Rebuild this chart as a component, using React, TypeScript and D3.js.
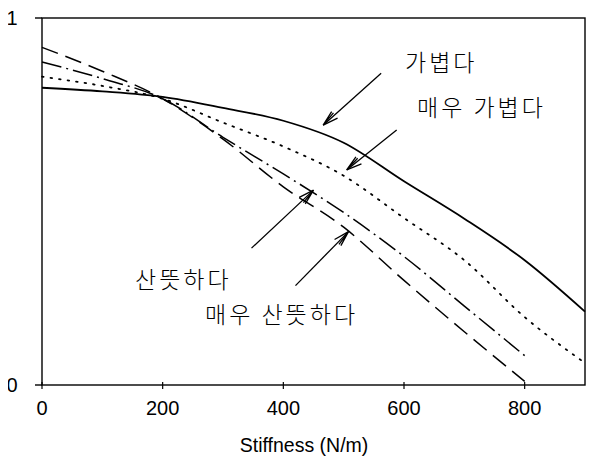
import React from "react";
import * as d3 from "d3";

// stiffness values (N/m) where the curves were read
const stiffness = [0, 100, 200, 300, 400, 500, 600, 700, 800, 900];

// one array per curve, null where the curve has ended
const light = [0.81, 0.8, 0.785, 0.755, 0.72, 0.66, 0.555, 0.453, 0.34, 0.2];
const veryLight = [0.84, 0.815, 0.78, 0.715, 0.65, 0.57, 0.455, 0.34, 0.185, 0.06];
const fresh = [0.88, 0.835, 0.78, 0.675, 0.575, 0.47, 0.35, 0.215, 0.08, null];
const veryFresh = [0.92, 0.855, 0.78, 0.67, 0.54, 0.43, 0.285, 0.145, 0.01, null];

const xTicks = [0, 200, 400, 600, 800];
const yTicks = [0, 1];

// label text, and the point on the curve the arrow touches
const labels = ["가볍다", "매우 가볍다", "산뜻하다", "매우 산뜻하다"];
const arrowX = [466, 505, 450, 508];
const arrowY = [0.708, 0.586, 0.531, 0.418];

const width = 596;
const height = 469;
const left = 42;
const right = 585;
const top = 18;
const bottom = 385;

export default function App() {
  const x = d3.scaleLinear().domain([0, 900]).range([left, right]);
  const y = d3.scaleLinear().domain([0, 1]).range([bottom, top]);

  const line = d3
    .line<[number, number | null]>()
    .defined((d) => d[1] != null)
    .x((d) => x(d[0]))
    .y((d) => y(d[1] as number))
    .curve(d3.curveMonotoneX);

  const series = [
    { values: light, dash: undefined, w: 1.8 },
    { values: veryLight, dash: "1.6,7", w: 1.8 },
    { values: fresh, dash: "20,5,2,5", w: 1.5 },
    { values: veryFresh, dash: "17,8", w: 1.5 },
  ];

  // tail offsets and text anchors for the four annotations (px)
  const tails = [
    [58, -52],
    [50, -40],
    [-62, 58],
    [-53, 54],
  ];
  const textPos = [
    [405, 71],
    [417, 116],
    [135, 288],
    [205, 323],
  ];

  const arrowHead = (tx: number, ty: number, sx: number, sy: number) => {
    const a = Math.atan2(sy - ty, sx - tx);
    const len = 16;
    const parts = [-0.28, -0.14, 0.28];
    return parts
      .map((o) => {
        const ex = tx + len * Math.cos(a + o);
        const ey = ty + len * Math.sin(a + o);
        return `M${tx},${ty}L${ex},${ey}`;
      })
      .join("");
  };

  const font = "Liberation Sans, Arial, sans-serif";

  return (
    <svg width={width} height={height} style={{ display: "block", margin: -8 }}>
      <rect width={width} height={height} fill="#fff" />
      {/* frame */}
      <rect
        x={left}
        y={top}
        width={right - left}
        height={bottom - top}
        fill="none"
        stroke="#000"
        strokeWidth={1.4}
      />
      {yTicks.map((t) => (
        <g key={"y" + t}>
          <line x1={left - 7} x2={left} y1={y(t)} y2={y(t)} stroke="#000" strokeWidth={1.4} />
          <text x={12} y={y(t)} dy="0.35em" textAnchor="middle" fontFamily={font} fontSize={20}>
            {t}
          </text>
        </g>
      ))}
      {xTicks.map((t) => (
        <g key={"x" + t}>
          <line x1={x(t)} x2={x(t)} y1={bottom - 3} y2={bottom + 4} stroke="#000" strokeWidth={1.2} />
          <text x={x(t)} y={415} textAnchor="middle" fontFamily={font} fontSize={20}>
            {t}
          </text>
        </g>
      ))}
      <text x={304} y={452} textAnchor="middle" fontFamily={font} fontSize={19.5}>
        Stiffness (N/m)
      </text>

      {series.map((s, i) => (
        <path
          key={i}
          d={line(stiffness.map((v, j) => [v, s.values[j]]) as [number, number | null][]) || ""}
          fill="none"
          stroke="#000"
          strokeWidth={s.w}
          strokeDasharray={s.dash}
          strokeLinecap={s.dash === "1.6,7" ? "round" : "butt"}
        />
      ))}

      {labels.map((l, i) => {
        const tx = x(arrowX[i]);
        const ty = y(arrowY[i]);
        const sx = tx + tails[i][0];
        const sy = ty + tails[i][1];
        return (
          <g key={l}>
            <line x1={sx} y1={sy} x2={tx} y2={ty} stroke="#000" strokeWidth={1.3} />
            <path d={arrowHead(tx, ty, sx, sy)} stroke="#000" strokeWidth={1.3} fill="none" />
            <text
              x={textPos[i][0]}
              y={textPos[i][1]}
              fontFamily="Noto Sans CJK KR"
              fontSize={23}
              fontWeight={300}
              letterSpacing={3}
            >
              {l}
            </text>
          </g>
        );
      })}
    </svg>
  );
}
